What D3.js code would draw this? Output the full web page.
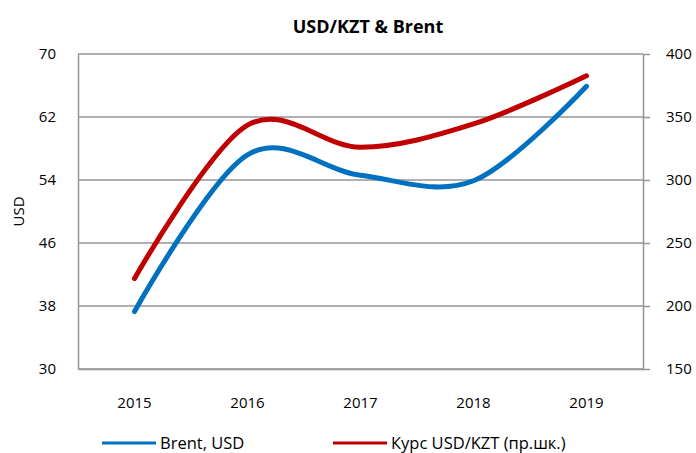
<!DOCTYPE html>
<html>
<head>
<meta charset="utf-8">
<script src="https://cdn.jsdelivr.net/npm/d3@7"></script>
<style>
  body { margin: 0; background: #fff; }
  svg { font-family: "Open Sans", "Liberation Sans", sans-serif; }
</style>
</head>
<body>
<div id="chart"></div>
<script>
// data
let years = ["2015", "2016", "2017", "2018", "2019"];
let brent = [37.3, 57.2, 54.6, 53.9, 65.9];
let usdkzt = [221.8, 343.5, 326.0, 344.5, 382.7];
let leftTicks = [30, 38, 46, 54, 62, 70];
let rightTicks = [150, 200, 250, 300, 350, 400];

let width = 696, height = 453;
let margin = {top: 54, right: 53, bottom: 84, left: 78};

let svg = d3.select('#chart').append('svg')
  .attr('width', width)
  .attr('height', height);

let x = d3.scaleBand()
  .domain(years)
  .range([margin.left, width - margin.right]);

let yL = d3.scaleLinear()
  .domain([30, 70])
  .range([height - margin.bottom, margin.top]);

let yR = d3.scaleLinear()
  .domain([150, 400])
  .range([height - margin.bottom, margin.top]);

// gridlines
svg.append('g')
  .selectAll('line')
  .data(leftTicks)
  .enter()
  .append('line')
    .attr('x1', margin.left)
    .attr('x2', width - margin.right)
    .attr('y1', d => yL(d))
    .attr('y2', d => yL(d))
    .attr('stroke', '#969696')
    .attr('stroke-width', 1.5);

// left axis
let leftAxis = svg.append('g')
  .attr('transform', `translate(${margin.left},0)`)
  .call(d3.axisLeft(yL).tickValues(leftTicks).tickSize(0).tickPadding(22));
leftAxis.select('.domain').attr('stroke', '#969696').attr('stroke-width', 1.5);
leftAxis.selectAll('text').attr('font-size', 15).attr('fill', '#000')
  .attr('font-family', '"Open Sans", sans-serif');

// right axis
let rightAxis = svg.append('g')
  .attr('transform', `translate(${width - margin.right},0)`)
  .call(d3.axisRight(yR).tickValues(rightTicks).tickSize(7).tickSizeOuter(0).tickPadding(16));
rightAxis.select('.domain').attr('stroke', '#969696').attr('stroke-width', 1.5);
rightAxis.selectAll('.tick line').attr('stroke', '#969696').attr('stroke-width', 1.5);
rightAxis.selectAll('text').attr('font-size', 15).attr('fill', '#000')
  .attr('font-family', '"Open Sans", sans-serif');

// bottom axis
let bottomAxis = svg.append('g')
  .attr('transform', `translate(0,${height - margin.bottom})`)
  .call(d3.axisBottom(x).tickSize(0).tickPadding(28));
bottomAxis.select('.domain').attr('stroke', '#969696').attr('stroke-width', 1.5);
bottomAxis.selectAll('text').attr('font-size', 15).attr('fill', '#000')
  .attr('font-family', '"Open Sans", sans-serif');

// y title
svg.append('text')
  .attr('transform', `translate(24,${(margin.top + height - margin.bottom) / 2}) rotate(-90)`)
  .attr('text-anchor', 'middle')
  .attr('font-size', 15)
  .text('USD');

// title
svg.append('text')
  .attr('x', 368)
  .attr('y', 33)
  .attr('text-anchor', 'middle')
  .attr('font-size', 18)
  .attr('font-weight', 'bold')
  .text('USD/KZT & Brent');

let cx = d => x(d) + x.bandwidth() / 2;

let lineL = d3.line()
  .x((d, i) => cx(years[i]))
  .y(d => yL(d))
  .curve(d3.curveCatmullRom.alpha(0));

let lineR = d3.line()
  .x((d, i) => cx(years[i]))
  .y(d => yR(d))
  .curve(d3.curveCatmullRom.alpha(0));

svg.append('path')
  .datum(usdkzt)
  .attr('d', lineR)
  .attr('fill', 'none')
  .attr('stroke', '#C00000')
  .attr('stroke-width', 5)
  .attr('stroke-linecap', 'round');

svg.append('path')
  .datum(brent)
  .attr('d', lineL)
  .attr('fill', 'none')
  .attr('stroke', '#0070C0')
  .attr('stroke-width', 5)
  .attr('stroke-linecap', 'round');

// legend
let legendItems = [
  {name: 'Brent, USD', color: '#0070C0', x: 102},
  {name: 'Курс USD/KZT (пр.шк.)', color: '#C00000', x: 333}
];
let legend = svg.append('g')
  .selectAll('g')
  .data(legendItems)
  .enter()
  .append('g')
  .attr('transform', d => `translate(${d.x},443)`);
legend.append('line')
  .attr('x1', 0).attr('x2', 54)
  .attr('stroke', d => d.color)
  .attr('stroke-width', 3);
legend.append('text')
  .attr('x', 58)
  .attr('dy', '0.35em')
  .attr('font-size', 16.5)
  .text(d => d.name);
</script>
</body>
</html>
